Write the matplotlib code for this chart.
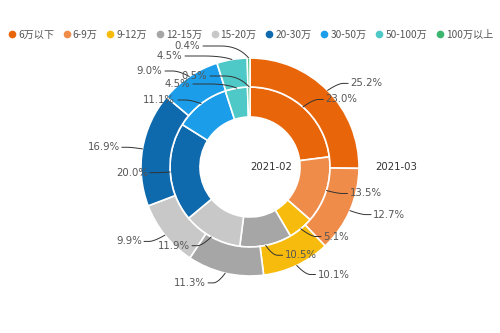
import numpy as np
import matplotlib
matplotlib.use("Agg")
import matplotlib.pyplot as plt
from matplotlib.lines import Line2D

plt.rcParams['font.family'] = ['Noto Sans CJK SC', 'DejaVu Sans']

# price bands and share (%) per month
categories = ["6万以下", "6-9万", "9-12万", "12-15万", "15-20万",
              "20-30万", "30-50万", "50-100万", "100万以上"]
share_2021_02 = [23.0, 13.5, 5.1, 10.5, 11.9, 20.0, 11.1, 4.5, 0.5]
share_2021_03 = [25.2, 12.7, 10.1, 11.3, 9.9, 16.9, 9.0, 4.5, 0.4]
ring_names = ["2021-02", "2021-03"]

colors = ["#e8650a", "#f08c4a", "#f7bb0e", "#a6a6a6", "#c8c8c8",
          "#0e69ad", "#1c9de9", "#4fc8c8", "#3db56f"]

# layout (pixels, y up)
W, H = 500, 333
cx, cy = 250, 166
r_outer, r_mid, r_inner = 109, 80, 50

# manual label positions for the crowded top slices: (ring, idx) -> (x_end, y)
overrides = {
    (1, 6): (162, H - 71), (1, 7): (182, H - 56), (1, 8): (200, H - 46),
    (0, 6): (175, H - 100), (0, 7): (190, H - 84), (0, 8): (207, H - 76),
}


def leader(p0, p1, p2, n=20):
    # smooth corner: quadratic curve anchor -> halfway along the tail, then straight
    q = (np.asarray(p1) + np.asarray(p2)) / 2
    t = np.linspace(0, 1, n)[:, None]
    pts = (1 - t) ** 2 * np.asarray(p0) + 2 * (1 - t) * t * np.asarray(p1) + t ** 2 * q
    pts = np.vstack([pts, p2])
    return pts[:, 0], pts[:, 1]


fig = plt.figure(figsize=(W / 100, H / 100), dpi=100)
ax = fig.add_axes([0, 0, 1, 1])

for ring, (vals, radius, width) in enumerate([(share_2021_02, r_mid, r_mid - r_inner),
                                              (share_2021_03, r_outer, r_outer - r_mid)]):
    ax.pie(vals, radius=radius, center=(cx, cy), startangle=90, counterclock=False,
           colors=colors, frame=True,
           wedgeprops=dict(width=width, edgecolor="white", linewidth=1.2))
    cum = np.cumsum([0] + vals[:-1])
    for i, v in enumerate(vals):
        ang = np.deg2rad(90 - (cum[i] + v / 2) * 3.6)
        c, s = np.cos(ang), np.sin(ang)
        a = (cx + radius * c, cy + radius * s)
        if (ring, i) in overrides:
            tx, ty = overrides[(ring, i)]
            end = (tx + 3, ty)
            elbow = (a[0] - 10, ty)
            if elbow[0] < end[0]:
                elbow = ((a[0] + end[0]) / 2, ty)
            ha = "right"
        else:
            sign = 1 if c >= 0 else -1
            elbow = (a[0] + 10 * c + sign * 5 * abs(s), a[1] + 10 * s)
            end = (elbow[0] + sign * 10, elbow[1])
            tx, ty = end[0] + sign * 2, end[1]
            ha = "left" if sign > 0 else "right"
        xs, ys = leader(a, elbow, end)
        ax.plot(xs, ys, color="#333333", lw=0.7, solid_capstyle="round")
        ax.text(tx, ty, f"{v:.1f}%", ha=ha, va="center", fontsize=7.3,
                color="#555555", family=["DejaVu Sans"])

ax.text(cx, cy, ring_names[0], ha="left", va="center", fontsize=7.3,
        color="#333333", family=["DejaVu Sans"])
ax.text(cx + 125, cy, ring_names[1], ha="left", va="center", fontsize=7.3,
        color="#333333", family=["DejaVu Sans"])

ax.set_xlim(0, W)
ax.set_ylim(0, H)
ax.set_aspect("equal")
ax.axis("off")

handles = [Line2D([], [], marker="o", linestyle="", markersize=4.5,
                  markerfacecolor=c, markeredgecolor=c) for c in colors]
fig.legend(handles, categories, loc="center", bbox_to_anchor=(0.502, 1 - 35 / H),
           ncol=len(categories), frameon=False, fontsize=7.3, handlelength=0.6,
           handletextpad=0.3, columnspacing=0.95, labelcolor="#555555",
           borderaxespad=0, borderpad=0)

fig.savefig("out.png", dpi=100)
